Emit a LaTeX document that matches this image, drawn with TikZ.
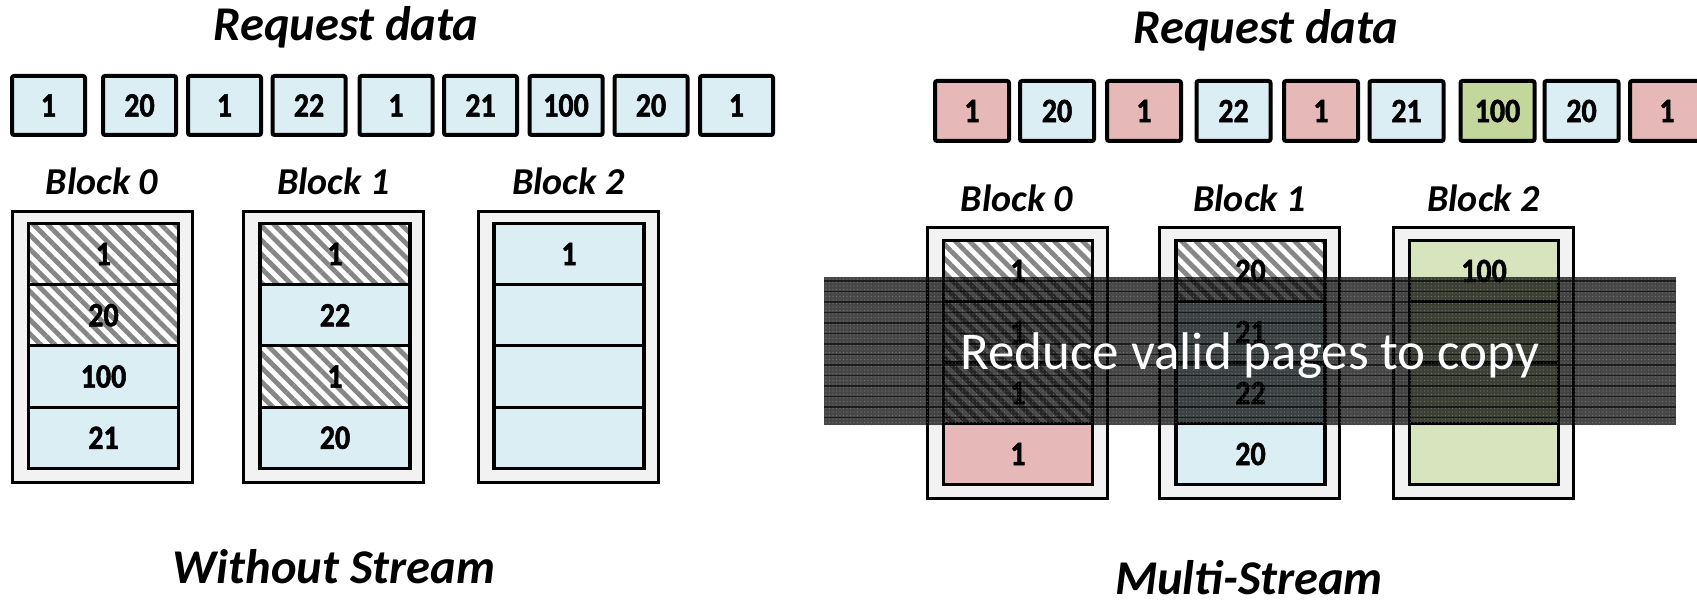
\documentclass[tikz,border=0pt]{standalone}
\usepackage{fontspec}
\setmainfont{Carlito}
\newfontfamily\tallfont[FakeStretch=0.88, BoldFeatures={FakeBold=1.5}]{Carlito}
\usetikzlibrary{patterns.meta}
\definecolor{lb}{HTML}{DAEEF3}
\definecolor{lr}{HTML}{E6B9B8}
\definecolor{lg}{HTML}{C3D69B}
\definecolor{lgp}{HTML}{D7E4BD}
\definecolor{bgg}{HTML}{F2F2F2}
\begin{document}
\begin{tikzpicture}[x=1pt,y=-1pt,
  rqbox/.style={draw, line width=4pt, rounded corners=2pt, minimum width=73pt, minimum height=59pt, inner sep=0pt, outer sep=0pt, font=\fontsize{34}{34}\tallfont\bfseries},
  outerblk/.style={draw, line width=3pt, fill=bgg, minimum width=180pt, minimum height=271pt, inner sep=0pt, outer sep=0pt},
  cell/.style={draw, line width=3.2pt, minimum width=150pt, minimum height=61.25pt, inner sep=0pt, outer sep=0pt, font=\fontsize{34}{34}\tallfont\bfseries},
  hatch/.style={preaction={fill=white}, preaction={pattern={Lines[angle=-45,distance=10pt,line width=4.8pt]}, pattern color=gray!95}},
  title/.style={font=\fontsize{48.5}{50}\selectfont\bfseries\itshape, anchor=base, inner sep=0pt},
  btitle/.style={font=\fontsize{38}{40}\selectfont\bfseries\itshape, anchor=base, inner sep=0pt}
]
\useasboundingbox (0,0) rectangle (1697,601);

% ---------- Left: Without Stream ----------
\node[title] (tl) at (346,41) {Request data};
\node[rqbox, fill=lb] (l1) at (48.5,105.5) {1};
\node[rqbox, fill=lb] (l2) at (139.5,105.5) {20};
\node[rqbox, fill=lb] (l3) at (224.5,105.5) {1};
\node[rqbox, fill=lb] (l4) at (309,105.5) {22};
\node[rqbox, fill=lb] (l5) at (396,105.5) {1};
\node[rqbox, fill=lb] (l6) at (480.5,105.5) {21};
\node[rqbox, fill=lb] (l7) at (566,105.5) {100};
\node[rqbox, fill=lb] (l8) at (651,105.5) {20};
\node[rqbox, fill=lb] (l9) at (736.5,105.5) {1};

\node[btitle] (lbt0) at (102,195) {Block 0};
\node[btitle] (lbt1) at (333.5,195) {Block 1};
\node[btitle] (lbt2) at (568.5,195) {Block 2};

\node[outerblk] (lb0) at (102,347) {};
\node[outerblk] (lb1) at (333.5,347) {};
\node[outerblk] (lb2) at (568.5,347) {};

\node[cell, hatch] (lb0a) at (103.5,254) {1};
\node[cell, hatch] (lb0b) at (103.5,315.25) {20};
\node[cell, fill=lb] (lb0c) at (103.5,376.5) {100};
\node[cell, fill=lb] (lb0d) at (103.5,437.75) {21};

\node[cell, hatch] (lb1a) at (335,254) {1};
\node[cell, fill=lb] (lb1b) at (335,315.25) {22};
\node[cell, hatch] (lb1c) at (335,376.5) {1};
\node[cell, fill=lb] (lb1d) at (335,437.75) {20};

\node[cell, fill=lb] (lb2a) at (569,254) {1};
\node[cell, fill=lb] (lb2b) at (569,315.25) {};
\node[cell, fill=lb] (lb2c) at (569,376.5) {};
\node[cell, fill=lb] (lb2d) at (569,437.75) {};

\node[title] (bl) at (334,583) {Without Stream};

% ---------- Right: Multi-Stream ----------
\node[title] (tr) at (1266,44) {Request data};
\node[rqbox, fill=lr, minimum width=74pt, minimum height=60pt] (r1) at (972,111) {1};
\node[rqbox, fill=lb, minimum width=74pt, minimum height=60pt] (r2) at (1057,111) {20};
\node[rqbox, fill=lr, minimum width=74pt, minimum height=60pt] (r3) at (1144,111) {1};
\node[rqbox, fill=lb, minimum width=74pt, minimum height=60pt] (r4) at (1233.5,111) {22};
\node[rqbox, fill=lr, minimum width=74pt, minimum height=60pt] (r5) at (1321,111) {1};
\node[rqbox, fill=lb, minimum width=74pt, minimum height=60pt] (r6) at (1406.5,111) {21};
\node[rqbox, fill=lg, minimum width=74pt, minimum height=60pt] (r7) at (1497.5,111) {100};
\node[rqbox, fill=lb, minimum width=74pt, minimum height=60pt] (r8) at (1581.5,111) {20};
\node[rqbox, fill=lr, minimum width=74pt, minimum height=60pt] (r9) at (1667,111) {1};

\node[btitle] (rbt0) at (1017,212) {Block 0};
\node[btitle] (rbt1) at (1249.5,212) {Block 1};
\node[btitle] (rbt2) at (1483.5,212) {Block 2};

\node[outerblk] (rb0) at (1017,363) {};
\node[outerblk] (rb1) at (1249.5,363) {};
\node[outerblk] (rb2) at (1483.5,363) {};

\node[cell, hatch, minimum width=149pt, minimum height=61pt] (rb0a) at (1018,271) {1};
\node[cell, hatch, minimum width=149pt, minimum height=61pt] (rb0b) at (1018,332) {1};
\node[cell, hatch, minimum width=149pt, minimum height=61pt] (rb0c) at (1018,393) {1};
\node[cell, fill=lr, minimum width=149pt, minimum height=61pt] (rb0d) at (1018,454) {1};

\node[cell, hatch, minimum width=149pt, minimum height=61pt] (rb1a) at (1250.5,271) {20};
\node[cell, fill=lb, minimum width=149pt, minimum height=61pt] (rb1b) at (1250.5,332) {21};
\node[cell, fill=lb, minimum width=149pt, minimum height=61pt] (rb1c) at (1250.5,393) {22};
\node[cell, fill=lb, minimum width=149pt, minimum height=61pt] (rb1d) at (1250.5,454) {20};

\node[cell, fill=lgp, minimum width=149pt, minimum height=61pt] (rb2a) at (1484,271) {100};
\node[cell, fill=lgp, minimum width=149pt, minimum height=61pt] (rb2b) at (1484,332) {};
\node[cell, fill=lgp, minimum width=149pt, minimum height=61pt] (rb2c) at (1484,393) {};
\node[cell, fill=lgp, minimum width=149pt, minimum height=61pt] (rb2d) at (1484,454) {};

% overlay band
\node[fill=black, fill opacity=0.72, minimum width=852pt, minimum height=148pt, inner sep=0pt, outer sep=0pt] (band) at (1250,351) {};
\node[pattern={Dots[radius=0.7pt,distance=3.5pt]}, pattern color=gray!70, opacity=0.5, minimum width=852pt, minimum height=148pt, inner sep=0pt, outer sep=0pt] (bandtex) at (1250,351) {};
\foreach \k in {0,...,13} {
  \draw[line width=1.8pt, black, opacity=0.6] ([yshift=-4pt-10.5pt*\k]band.north west) -- ([yshift=-4pt-10.5pt*\k]band.north east);
}
\node[font=\fontsize{53}{56}\selectfont, text=white, anchor=base, inner sep=0pt] (msg) at (1250,370) {Reduce valid pages to copy};

\node[title] (br) at (1249,594) {Multi-Stream};
\end{tikzpicture}
\end{document}
